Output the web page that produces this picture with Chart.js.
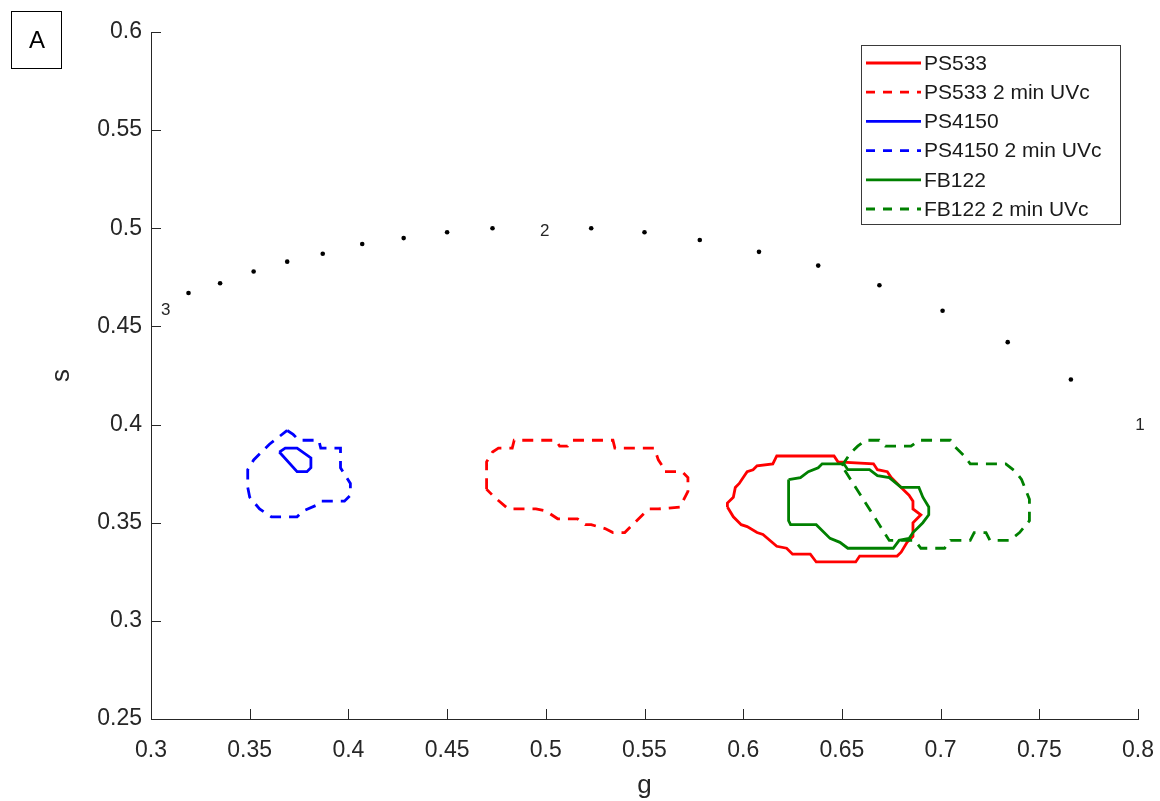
<!DOCTYPE html>
<html>
<head>
<meta charset="utf-8">
<script src="https://cdn.jsdelivr.net/npm/chart.js@4.4.0/dist/chart.umd.min.js"></script>
<style>
  html, body { margin: 0; padding: 0; background: #fff; }
  #wrap { width: 1160px; height: 801px; }
</style>
</head>
<body>
<div id="wrap"><canvas id="phasorChart" width="1160" height="801"></canvas></div>
<script>
const xTicks = [0.3, 0.35, 0.4, 0.45, 0.5, 0.55, 0.6, 0.65, 0.7, 0.75, 0.8];
const yTicks = [0.25, 0.3, 0.35, 0.4, 0.45, 0.5, 0.55, 0.6];

// universal circle points
const circleG = [0.319, 0.335, 0.352, 0.369, 0.387, 0.407, 0.428, 0.450, 0.473, 0.523, 0.550, 0.578, 0.608, 0.638, 0.669, 0.701, 0.734, 0.766];
const circleS = [0.467, 0.472, 0.478, 0.483, 0.487, 0.492, 0.495, 0.498, 0.500, 0.500, 0.498, 0.494, 0.488, 0.481, 0.471, 0.458, 0.442, 0.423];

// lifetime markers (ns)
const lifetimeText = ['1', '2', '3'];
const lifetimeG = [0.801, 0.4995, 0.3075];
const lifetimeS = [0.3995, 0.4985, 0.458];

// contours, [g, s]
const ps533 = [[0.592, 0.358], [0.592, 0.360], [0.595, 0.363], [0.596, 0.368], [0.598, 0.370], [0.600, 0.373], [0.602, 0.376], [0.605, 0.377], [0.607, 0.379], [0.615, 0.380], [0.617, 0.384], [0.646, 0.384], [0.648, 0.381], [0.666, 0.380], [0.668, 0.377], [0.673, 0.376], [0.675, 0.373], [0.680, 0.368], [0.684, 0.364], [0.686, 0.361], [0.686, 0.357], [0.690, 0.354], [0.686, 0.350], [0.686, 0.343], [0.683, 0.340], [0.680, 0.335], [0.678, 0.333], [0.659, 0.333], [0.657, 0.330], [0.637, 0.330], [0.634, 0.334], [0.625, 0.334], [0.622, 0.337], [0.617, 0.338], [0.610, 0.344], [0.607, 0.345], [0.602, 0.348], [0.599, 0.349], [0.595, 0.353], [0.592, 0.358]];
const ps533uv = [[0.470, 0.367], [0.470, 0.381], [0.473, 0.386], [0.476, 0.388], [0.483, 0.388], [0.484, 0.392], [0.505, 0.392], [0.507, 0.389], [0.511, 0.389], [0.513, 0.392], [0.534, 0.392], [0.535, 0.388], [0.555, 0.388], [0.557, 0.382], [0.559, 0.379], [0.560, 0.376], [0.569, 0.376], [0.572, 0.373], [0.572, 0.366], [0.568, 0.358], [0.557, 0.357], [0.552, 0.357], [0.545, 0.350], [0.540, 0.345], [0.534, 0.345], [0.530, 0.347], [0.523, 0.349], [0.520, 0.349], [0.516, 0.352], [0.506, 0.352], [0.500, 0.356], [0.495, 0.357], [0.481, 0.357], [0.474, 0.363], [0.470, 0.367]];
const ps4150 = [[0.365, 0.386], [0.368, 0.388], [0.374, 0.388], [0.381, 0.383], [0.381, 0.378], [0.379, 0.376], [0.374, 0.376], [0.365, 0.386]];
const ps4150uv = [[0.369, 0.397], [0.372, 0.395], [0.375, 0.392], [0.385, 0.392], [0.386, 0.388], [0.396, 0.388], [0.396, 0.378], [0.401, 0.370], [0.401, 0.364], [0.398, 0.361], [0.386, 0.361], [0.384, 0.359], [0.377, 0.356], [0.374, 0.353], [0.361, 0.353], [0.355, 0.357], [0.350, 0.363], [0.349, 0.368], [0.349, 0.377], [0.352, 0.382], [0.360, 0.390], [0.369, 0.397]];
const fb122 = [[0.623, 0.372], [0.629, 0.373], [0.633, 0.376], [0.638, 0.378], [0.640, 0.380], [0.651, 0.380], [0.653, 0.377], [0.664, 0.377], [0.668, 0.374], [0.674, 0.373], [0.680, 0.368], [0.689, 0.368], [0.691, 0.363], [0.694, 0.358], [0.694, 0.354], [0.691, 0.350], [0.689, 0.348], [0.686, 0.345], [0.684, 0.342], [0.679, 0.341], [0.676, 0.337], [0.653, 0.337], [0.649, 0.340], [0.644, 0.342], [0.637, 0.349], [0.624, 0.349], [0.623, 0.351], [0.623, 0.372]];
const fb122uv = [[0.650, 0.379], [0.654, 0.385], [0.658, 0.389], [0.662, 0.392], [0.669, 0.392], [0.672, 0.389], [0.685, 0.389], [0.689, 0.392], [0.705, 0.392], [0.707, 0.389], [0.712, 0.384], [0.715, 0.380], [0.733, 0.380], [0.738, 0.376], [0.741, 0.372], [0.743, 0.367], [0.745, 0.362], [0.745, 0.351], [0.740, 0.345], [0.735, 0.341], [0.725, 0.341], [0.723, 0.345], [0.717, 0.345], [0.715, 0.341], [0.705, 0.341], [0.702, 0.337], [0.690, 0.337], [0.687, 0.341], [0.674, 0.341], [0.650, 0.379]];

const fontFamily = '"Liberation Sans", Arial, Helvetica, sans-serif';
const axisColor = '#262626';
const dashed = [11, 8];

function contour(label, points, color, dash, order) {
  return {
    label: label,
    data: points.map(([g, s]) => ({ x: g, y: s })),
    showLine: true,
    borderColor: color,
    backgroundColor: color,
    borderWidth: 2.8,
    borderDash: dash,
    pointRadius: 0,
    fill: false,
    tension: 0,
    order: order
  };
}

const phasorExtras = {
  id: 'phasorExtras',
  afterDatasetsDraw(chart) {
    const { ctx, scales: { x, y } } = chart;
    ctx.save();
    // ticks point inward like MATLAB
    ctx.strokeStyle = axisColor;
    ctx.lineWidth = 1;
    ctx.beginPath();
    xTicks.forEach(v => {
      const px = Math.round(x.getPixelForValue(v)) + 0.5;
      ctx.moveTo(px, y.bottom);
      ctx.lineTo(px, y.bottom - 10);
    });
    yTicks.forEach(v => {
      const py = Math.round(y.getPixelForValue(v)) + 0.5;
      ctx.moveTo(x.left, py);
      ctx.lineTo(x.left + 10, py);
    });
    ctx.stroke();

    ctx.fillStyle = axisColor;
    ctx.font = '17px ' + fontFamily;
    ctx.textAlign = 'center';
    ctx.textBaseline = 'middle';
    lifetimeText.forEach((t, i) => {
      ctx.fillText(t, x.getPixelForValue(lifetimeG[i]), y.getPixelForValue(lifetimeS[i]));
    });
    ctx.restore();
  },
  afterDraw(chart) {
    const ctx = chart.ctx;
    ctx.save();
    // legend box
    ctx.fillStyle = '#fff';
    ctx.fillRect(861, 45, 260, 180);
    ctx.strokeStyle = '#3a3a3a';
    ctx.lineWidth = 1;
    ctx.strokeRect(861.5, 45.5, 259, 179);
    ctx.font = '21px ' + fontFamily;
    ctx.textAlign = 'left';
    ctx.textBaseline = 'middle';
    const items = chart.data.datasets.filter(d => d.label);
    items.forEach((d, i) => {
      const ly = 63 + i * 29.2;
      ctx.strokeStyle = d.borderColor;
      ctx.lineWidth = 2.8;
      ctx.setLineDash(d.borderDash.length ? [9, 8] : []);
      ctx.beginPath();
      ctx.moveTo(866, ly);
      ctx.lineTo(921, ly);
      ctx.stroke();
      ctx.setLineDash([]);
      ctx.fillStyle = '#1a1a1a';
      ctx.fillText(d.label, 924, ly + 1);
    });
    // panel label
    ctx.strokeStyle = '#000';
    ctx.lineWidth = 1;
    ctx.strokeRect(11.5, 11.5, 50, 57);
    ctx.fillStyle = '#000';
    ctx.font = '24px ' + fontFamily;
    ctx.textAlign = 'center';
    ctx.fillText('A', 37, 41);
    ctx.restore();
  }
};

const tickFont = { family: fontFamily, size: 23 };

new Chart(document.getElementById('phasorChart'), {
  type: 'scatter',
  data: {
    datasets: [
      contour('PS533', ps533, '#ff0000', [], 6),
      contour('PS533 2 min UVc', ps533uv, '#ff0000', dashed, 5),
      contour('PS4150', ps4150, '#0000ff', [], 4),
      contour('PS4150 2 min UVc', ps4150uv, '#0000ff', dashed, 3),
      contour('FB122', fb122, '#008000', [], 2),
      contour('FB122 2 min UVc', fb122uv, '#008000', dashed, 1),
      {
        label: '',
        data: circleG.map((g, i) => ({ x: g, y: circleS[i] })),
        pointRadius: 2.3,
        pointBackgroundColor: '#000',
        pointBorderWidth: 0,
        borderDash: [],
        order: 0
      }
    ]
  },
  options: {
    responsive: false,
    animation: false,
    devicePixelRatio: 1,
    layout: { padding: { left: 0, top: 32, right: 22, bottom: 0 } },
    plugins: {
      legend: { display: false },
      tooltip: { enabled: false }
    },
    scales: {
      x: {
        type: 'linear',
        min: 0.3,
        max: 0.8,
        afterBuildTicks: s => { s.ticks = xTicks.map(v => ({ value: v })); },
        afterFit: s => { s.height = 82; s.paddingLeft = 0; s.paddingRight = 0; },
        ticks: { callback: v => String(v), font: tickFont, color: axisColor, padding: 18, maxRotation: 0, autoSkip: false },
        grid: { display: false, drawTicks: false },
        border: { display: true, color: axisColor, width: 1 },
        title: { display: true, text: 'g', color: axisColor, font: { family: fontFamily, size: 26 }, padding: { top: 3, bottom: 0 } }
      },
      y: {
        type: 'linear',
        min: 0.25,
        max: 0.6,
        afterBuildTicks: s => { s.ticks = yTicks.map(v => ({ value: v })); },
        afterFit: s => { s.width = 151; s.paddingTop = 0; s.paddingBottom = 0; },
        ticks: { callback: v => String(v), font: tickFont, color: axisColor, padding: 9, autoSkip: false },
        grid: { display: false, drawTicks: false },
        border: { display: true, color: axisColor, width: 1 },
        title: { display: true, text: 's', color: axisColor, font: { family: fontFamily, size: 26 }, padding: { top: 46, bottom: 0 } }
      }
    }
  },
  plugins: [phasorExtras]
});
</script>
</body>
</html>
